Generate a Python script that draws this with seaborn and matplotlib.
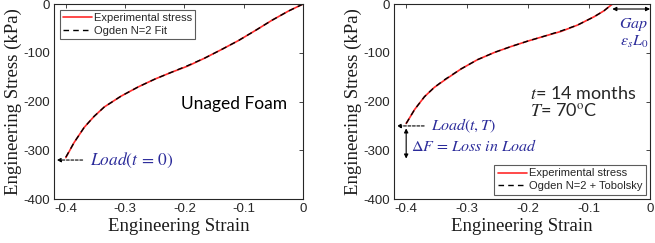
import numpy as np
import pandas as pd
import matplotlib
matplotlib.use("Agg")
import matplotlib.pyplot as plt
import seaborn as sns

# =========================
# DATA
# =========================
strain_unaged = [-0.400, -0.386, -0.369, -0.352, -0.335, -0.307, -0.278, -0.250, -0.222,
                 -0.194, -0.166, -0.137, -0.109, -0.080, -0.052, -0.024, 0.0]
stress_unaged_exp = [-315, -284, -253, -230, -211, -189, -170, -154, -140,
                     -127, -111, -93, -75, -54, -33, -14, 0]
stress_unaged_fit = [-314, -284, -253, -230, -211, -189, -170, -154, -140,
                     -126, -111, -93, -75, -54, -33, -14, 0]

strain_aged = [-0.400, -0.386, -0.370, -0.354, -0.337, -0.310, -0.283, -0.255, -0.228,
               -0.201, -0.174, -0.146, -0.119, -0.092, -0.076, -0.062]
stress_aged_exp = [-245, -216, -190, -171, -156, -133, -114, -99, -87,
                   -76, -66, -56, -43, -26, -14, 0]
stress_aged_fit = [-245, -216, -190, -171, -155, -133, -114, -99, -87,
                   -76, -66, -55, -43, -26, -14, 0]

load_unaged = -320
load_aged = -250
load_drop_end = -317
gap_strain = -0.062

x_ticks = [-0.4, -0.3, -0.2, -0.1, 0]
y_ticks = [-400, -300, -200, -100, 0]

# =========================
# STYLE
# =========================
sns.set_theme(style="white")
plt.rcParams['font.family'] = ['Liberation Sans', 'DejaVu Sans']
plt.rcParams['mathtext.fontset'] = 'stix'

RED = "#ff2a2a"
BLUE = "#2b2b9a"

fig = plt.figure(figsize=(6.55, 2.43), dpi=100)
ax1 = fig.add_axes([0.0824, 0.181, 0.380, 0.802])
ax2 = fig.add_axes([0.6015, 0.181, 0.391, 0.802])


def setup(ax):
    ax.set_xlim(-0.42, 0)
    ax.set_ylim(-400, 0)
    ax.set_xticks(x_ticks)
    ax.set_xticklabels(["-0.4", "-0.3", "-0.2", "-0.1", "0"])
    ax.set_yticks(y_ticks)
    ax.set_yticklabels(["-400", "-300", "-200", "-100", "0"])
    ax.tick_params(direction="in", length=3, width=0.6, labelsize=9.5,
                   colors="#262626", top=True, right=True, pad=3)
    for s in ax.spines.values():
        s.set_color("#262626")
        s.set_linewidth(0.8)
    ax.set_xlabel("Engineering Strain", family="Liberation Serif", fontsize=13.5,
                  labelpad=2, color="#1a1a1a")
    ax.set_ylabel("Engineering Stress (kPa)", family="Liberation Serif", fontsize=13.5,
                  labelpad=1, color="#1a1a1a")


# =========================
# LEFT: UNAGED
# =========================
sns.lineplot(x=strain_unaged, y=stress_unaged_exp, ax=ax1, color=RED, lw=1.2,
             label="Experimental stress")
sns.lineplot(x=strain_unaged, y=stress_unaged_fit, ax=ax1, color="black", lw=1.0,
             linestyle=(0, (4, 3)), label="Ogden N=2 Fit")
setup(ax1)
leg = ax1.legend(loc="upper left", fontsize=8, frameon=True, fancybox=False,
                 borderpad=0.3, handlelength=2.6, handletextpad=0.2,
                 labelspacing=0.25, borderaxespad=0.5)
leg.get_frame().set_edgecolor("#333333")
leg.get_frame().set_linewidth(0.8)

ax1.text(0.51, 0.49, "Unaged Foam", transform=ax1.transAxes, fontsize=12.5,
         family=["Lato", "DejaVu Sans"], va="center", ha="left", color="black")
ax1.annotate("", xy=(-0.42, load_unaged), xytext=(-0.367, load_unaged),
             arrowprops=dict(arrowstyle="-|>", color="black", lw=0.8,
                             linestyle=(0, (2.5, 1.5)), mutation_scale=6))
ax1.text(-0.36, load_unaged, r"$Load(t\,=\,0)$", color=BLUE, fontsize=12.5,
         va="center", ha="left")

# =========================
# RIGHT: AGED
# =========================
sns.lineplot(x=strain_aged, y=stress_aged_exp, ax=ax2, color=RED, lw=1.2,
             label="Experimental stress")
sns.lineplot(x=strain_aged, y=stress_aged_fit, ax=ax2, color="black", lw=1.0,
             linestyle=(0, (4, 3)), label="Ogden N=2 + Tobolsky")
setup(ax2)
leg2 = ax2.legend(loc="lower right", fontsize=8, frameon=True, fancybox=False,
                  borderpad=0.3, handlelength=2.6, handletextpad=0.2,
                  labelspacing=0.25, borderaxespad=0.4)
leg2.get_frame().set_edgecolor("#333333")
leg2.get_frame().set_linewidth(0.8)

ax2.text(-0.197, -184, r"$t$= 14 months", fontsize=13,
         family=["Lato", "DejaVu Sans"], va="center", ha="left")
ax2.text(-0.197, -219, r"$T$= 70$^{\rm o}$C", fontsize=13,
         family=["Lato", "DejaVu Sans"], va="center", ha="left")

ax2.annotate("", xy=(-0.42, load_aged), xytext=(-0.366, load_aged),
             arrowprops=dict(arrowstyle="-|>", color="black", lw=0.8,
                             linestyle=(0, (2.5, 1.5)), mutation_scale=6))
ax2.text(-0.36, load_aged, r"$Load(t,T)$", color=BLUE, fontsize=11.5,
         va="center", ha="left")
ax2.annotate("", xy=(-0.4, load_drop_end), xytext=(-0.4, -255),
             arrowprops=dict(arrowstyle="<|-|>", color="black", lw=0.8,
                             mutation_scale=6, shrinkA=0, shrinkB=0))
ax2.text(-0.392, -291, r"$\Delta F\,=\,Loss\ in\ Load$", color=BLUE, fontsize=11.5,
         va="center", ha="left")

ax2.annotate("", xy=(gap_strain, -10), xytext=(0, -10),
             arrowprops=dict(arrowstyle="<|-|>", color="black", lw=0.8,
                             mutation_scale=6, shrinkA=0, shrinkB=0))
ax2.text(-0.003, -42, r"$Gap$", color=BLUE, fontsize=11.5, va="center", ha="right")
ax2.text(-0.003, -78, r"$\varepsilon_s L_0$", color=BLUE, fontsize=11.5,
         va="center", ha="right")

fig.savefig("out.png", dpi=100)
